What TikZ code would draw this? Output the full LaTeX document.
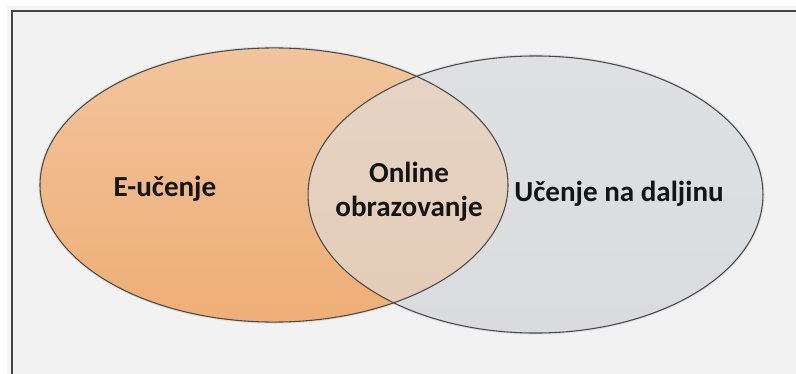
\documentclass[tikz,border=0pt]{standalone}
\usepackage{fontspec}
\setmainfont{Carlito}
\definecolor{bgc}{HTML}{F2F2F2}
\definecolor{framec}{HTML}{444444}
\definecolor{orangetop}{HTML}{F2C49C}
\definecolor{orangebot}{HTML}{EFAE76}
\definecolor{graytop}{HTML}{DEE0E2}
\definecolor{graybot}{HTML}{D9DBDE}
\definecolor{edgec}{HTML}{4A4A4A}
\tikzset{
  lbl/.style={font=\bfseries\fontsize{21.8pt}{26pt}\selectfont, text=black!92, align=center, inner sep=0pt},
  outline/.style={draw=edgec, line width=0.8pt}
}
\begin{document}
\begin{tikzpicture}[x=0.75pt,y=-0.75pt]
\useasboundingbox (0,0) rectangle (796,374);
\fill[white] (0,0) rectangle (796,374);
% frame shadow
\fill[black!8] (9,8) rectangle (812,392);
\fill[black!4] (7,6) rectangle (814,394);
\draw[draw=framec, line width=1.6pt, fill=bgc] (12,11) rectangle (810,390);
\coordinate (oc) at (274,185);
\coordinate (gc) at (535.5,194.5);
% soft glow
\draw[black!12, line width=2.4pt] (gc) ellipse [x radius=170.6pt, y radius=103.9pt];
\draw[black!12, line width=2.4pt] (oc) ellipse [x radius=175.5pt, y radius=102.8pt];
% gray ellipse
\shade[top color=graytop, bottom color=graybot] (gc) ellipse [x radius=170.6pt, y radius=103.9pt];
% orange ellipse
\shade[top color=orangetop, bottom color=orangebot] (oc) ellipse [x radius=175.5pt, y radius=102.8pt];
% lens
\begin{scope}
  \clip (oc) ellipse [x radius=175.5pt, y radius=102.8pt];
  \fill[graytop, opacity=0.6] (gc) ellipse [x radius=170.6pt, y radius=103.9pt];
\end{scope}
% outlines
\draw[outline] (gc) ellipse [x radius=170.6pt, y radius=103.9pt];
\draw[outline] (oc) ellipse [x radius=175.5pt, y radius=102.8pt];
% labels
\node[lbl, anchor=base] (eu) at (165,197) {E-učenje};
\node[lbl, anchor=base] (ud) at (619,201) {Učenje na daljinu};
\node[lbl, anchor=base] (on1) at (409,183) {Online};
\node[lbl, anchor=base] (on2) at (409,216) {obrazovanje};
\end{tikzpicture}
\end{document}
